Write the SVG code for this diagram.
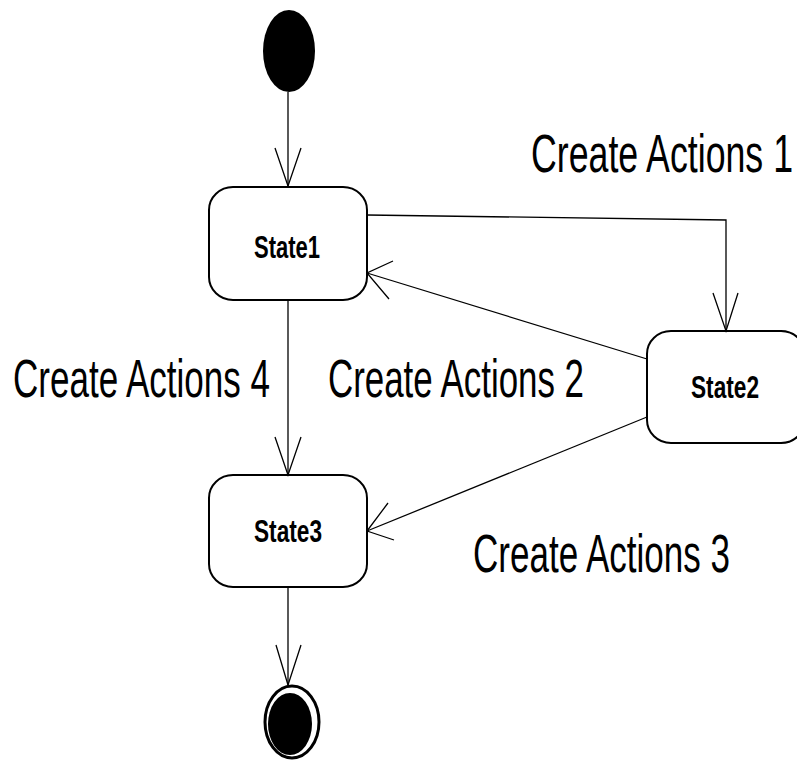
<svg xmlns="http://www.w3.org/2000/svg" width="797" height="763" viewBox="0 0 797 763">
  <style>
    .state { fill: #ffffff; stroke: #000000; stroke-width: 2; }
    .state-label { font-family: "Liberation Sans", Arial, sans-serif; font-weight: bold; font-size: 32px; fill: #000000; }
    .action-label { font-family: "Liberation Sans", Arial, sans-serif; font-size: 54px; fill: #000000; }
    .edge { fill: none; stroke: #000000; stroke-width: 1.3; }
    .head { fill: none; stroke: #000000; stroke-width: 1.3; stroke-linejoin: miter; }
  </style>
  <rect width="797" height="763" fill="#ffffff"/>

  <!-- start pseudo-state -->
  <g id="initial">
    <ellipse cx="289" cy="51" rx="26" ry="41" fill="#000000"/>
  </g>

  <!-- states -->
  <g id="state1">
    <rect class="state" x="209" y="187" width="158" height="113" rx="24" ry="23"/>
    <text class="state-label" x="254" y="258" textLength="66" lengthAdjust="spacingAndGlyphs">State1</text>
  </g>
  <g id="state2">
    <rect class="state" x="647" y="331" width="158" height="112" rx="24" ry="23"/>
    <text class="state-label" x="691" y="398" textLength="68" lengthAdjust="spacingAndGlyphs">State2</text>
  </g>
  <g id="state3">
    <rect class="state" x="209" y="475" width="158" height="112" rx="24" ry="23"/>
    <text class="state-label" x="254" y="542" textLength="68" lengthAdjust="spacingAndGlyphs">State3</text>
  </g>

  <!-- end pseudo-state -->
  <g id="final">
    <ellipse cx="292" cy="722" rx="27" ry="36" fill="none" stroke="#000000" stroke-width="3"/>
    <ellipse cx="290" cy="724" rx="22" ry="31" fill="#000000"/>
  </g>

  <!-- transitions -->
  <g id="connectors">
    <line class="edge" x1="288" y1="92" x2="288" y2="186"/>
    <polyline class="head" points="275,148 288,186 301,148"/>

    <polyline class="edge" points="367,215 726,220 726,331"/>
    <polyline class="head" points="713,293 726,331 738,293"/>

    <line class="edge" x1="647" y1="359" x2="367" y2="273"/>
    <polyline class="head" points="393,261 367,273 389,299"/>

    <line class="edge" x1="288" y1="300" x2="288" y2="475"/>
    <polyline class="head" points="275,437 288,475 301,437"/>

    <line class="edge" x1="647" y1="417" x2="367" y2="531"/>
    <polyline class="head" points="388,503 367,531 394,540"/>

    <line class="edge" x1="288" y1="587" x2="288" y2="685"/>
    <polyline class="head" points="276,645 288,685 301,645"/>
  </g>

  <!-- transition labels -->
  <g id="labels">
    <text class="action-label" x="531" y="172" textLength="262" lengthAdjust="spacingAndGlyphs">Create Actions 1</text>
    <text class="action-label" x="328" y="397" textLength="256" lengthAdjust="spacingAndGlyphs">Create Actions 2</text>
    <text class="action-label" x="473" y="572" textLength="257" lengthAdjust="spacingAndGlyphs">Create Actions 3</text>
    <text class="action-label" x="13" y="397" textLength="257" lengthAdjust="spacingAndGlyphs">Create Actions 4</text>
  </g>
</svg>
